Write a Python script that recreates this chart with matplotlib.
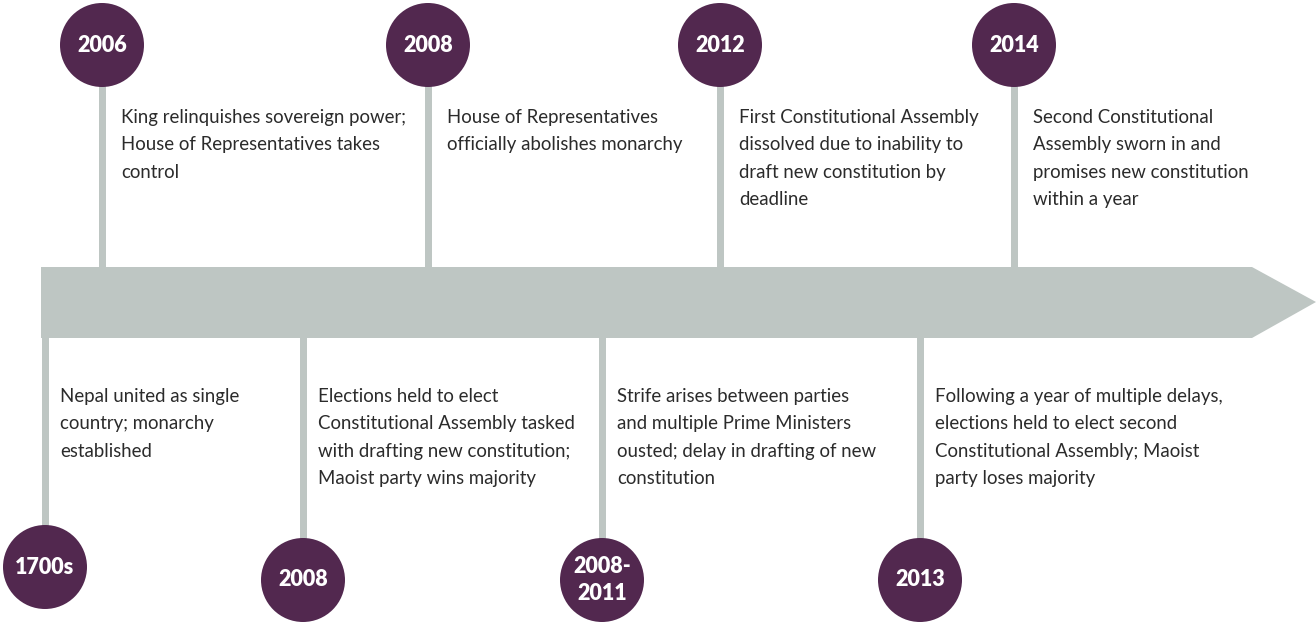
import matplotlib.pyplot as plt
from matplotlib.patches import Circle, Polygon, Rectangle

# event data
top_years = ["2006", "2008", "2012", "2014"]
top_texts = [
    "King relinquishes sovereign power;\nHouse of Representatives takes\ncontrol",
    "House of Representatives\nofficially abolishes monarchy",
    "First Constitutional Assembly\ndissolved due to inability to\ndraft new constitution by\ndeadline",
    "Second Constitutional\nAssembly sworn in and\npromises new constitution\nwithin a year",
]
bottom_years = ["1700s", "2008", "2008-\n2011", "2013"]
bottom_texts = [
    "Nepal united as single\ncountry; monarchy\nestablished",
    "Elections held to elect\nConstitutional Assembly tasked\nwith drafting new constitution;\nMaoist party wins majority",
    "Strife arises between parties\nand multiple Prime Ministers\nousted; delay in drafting of new\nconstitution",
    "Following a year of multiple delays,\nelections held to elect second\nConstitutional Assembly; Maoist\nparty loses majority",
]

# layout (pixel coords)
top_x = [102, 428, 720, 1014]
bottom_x = [45, 303, 602, 920]
bottom_cy = [567, 580, 580, 580]
top_cy = 45
r = 42
band_top, band_bot = 267, 338

purple = "#52284f"
grey = "#bec6c3"
txt = "#2b2b2b"

plt.rcParams['font.family'] = ['Lato', 'DejaVu Sans']

fig = plt.figure(figsize=(13.16, 6.22), dpi=100)
ax = fig.add_axes([0, 0, 1, 1])
ax.set_xlim(0, 1316)
ax.set_ylim(622, 0)
ax.axis('off')

# arrow band
ax.add_patch(Polygon([(41, band_top), (1252, band_top), (1316, 302),
                      (1252, band_bot), (41, band_bot)],
                     closed=True, fc=grey, ec='none', zorder=1))

for yr, t, x in zip(top_years, top_texts, top_x):
    ax.add_patch(Rectangle((x - 3.5, top_cy), 7, band_top - top_cy, fc=grey, ec='none', zorder=1))
    ax.add_patch(Circle((x, top_cy), r, fc=purple, ec='none', zorder=2))
    ax.text(x, top_cy, yr, color='white', fontsize=15.5, fontweight='heavy',
            ha='center', va='center', zorder=3)
    ax.text(x + 19, 109, t, color=txt, fontsize=13.4, ha='left', va='top',
            linespacing=1.74)

for yr, t, x, cy in zip(bottom_years, bottom_texts, bottom_x, bottom_cy):
    ax.add_patch(Rectangle((x - 3.5, band_bot), 7, cy - band_bot, fc=grey, ec='none', zorder=1))
    ax.add_patch(Circle((x, cy), r, fc=purple, ec='none', zorder=2))
    ax.text(x, cy, yr, color='white', fontsize=15.5, fontweight='heavy',
            ha='center', va='center', zorder=3, linespacing=1.4)
    ax.text(x + 15, 388, t, color=txt, fontsize=13.4, ha='left', va='top',
            linespacing=1.74)

fig.savefig('out.png', dpi=100)
